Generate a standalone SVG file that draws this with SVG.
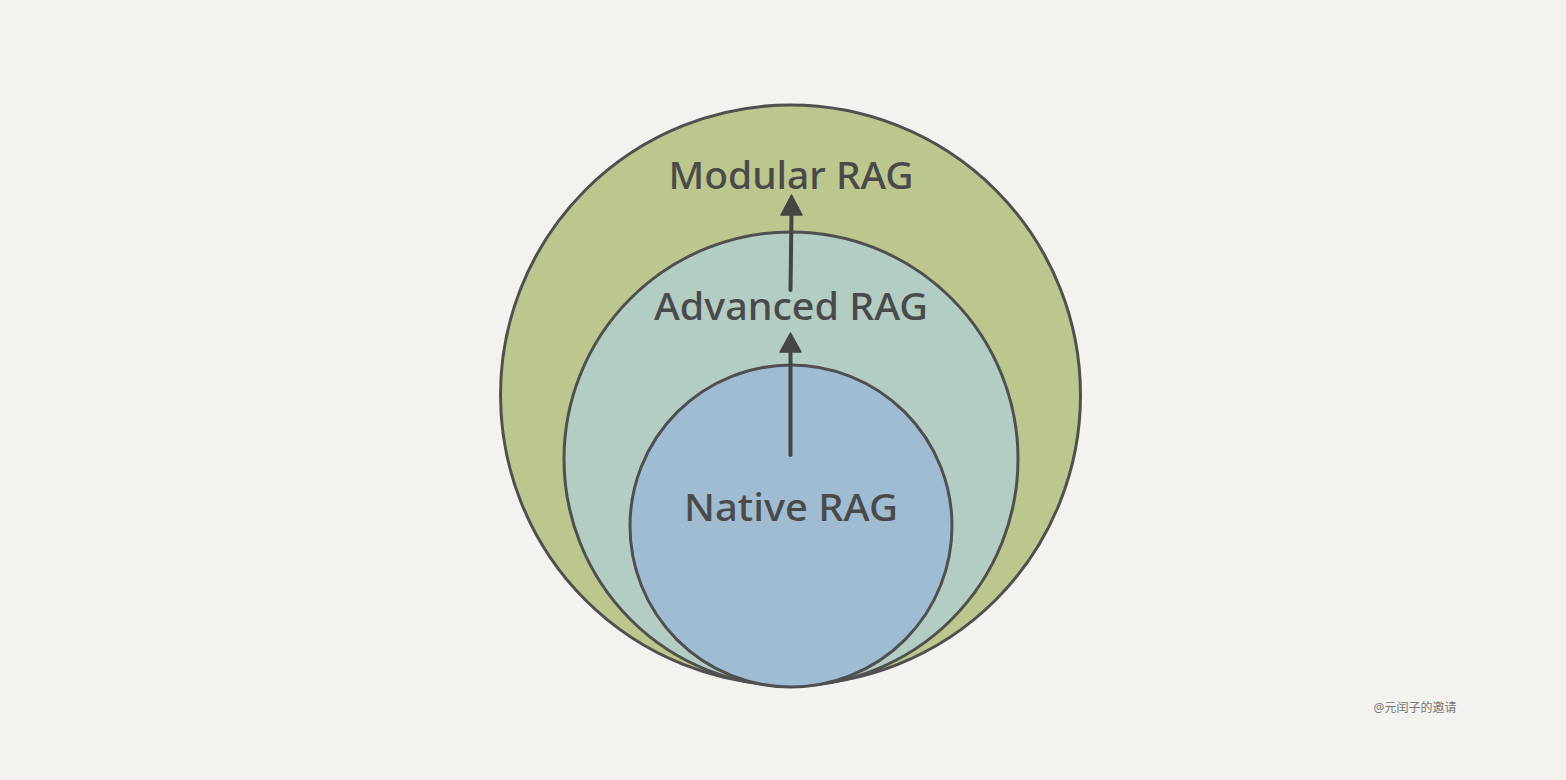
<svg xmlns="http://www.w3.org/2000/svg" width="1566" height="780" viewBox="0 0 1566 780">
<defs>
<style>
.node{stroke:#505050;stroke-width:3}
.lbl{font-family:"Noto Sans","DejaVu Sans",sans-serif;font-size:38px;font-weight:500;fill:#4a4a4a;text-anchor:middle}
.conn{stroke:#454545;stroke-width:4;fill:none;stroke-linecap:round}
.head{fill:#454545;stroke:#454545;stroke-width:1.5;stroke-linejoin:round}
</style>
</defs>
<rect width="1566" height="780" fill="#f3f2ee"/>
<g id="modular">
<circle class="node" cx="790.5" cy="395" r="290" fill="#bcc78d"/>
<text class="lbl" x="791" y="189" textLength="245" lengthAdjust="spacingAndGlyphs">Modular RAG</text>
</g>
<g id="advanced">
<circle class="node" cx="791" cy="459" r="227" fill="#b3cdc4"/>
<text class="lbl" x="791" y="320" textLength="274" lengthAdjust="spacingAndGlyphs">Advanced RAG</text>
</g>
<g id="native">
<circle class="node" cx="791" cy="526" r="161" fill="#a0bcd3"/>
<text class="lbl" x="791" y="521" textLength="214" lengthAdjust="spacingAndGlyphs">Native RAG</text>
</g>
<g id="connectors">
<path class="conn" d="M790.5 455 L790.5 350"/>
<path class="head" d="M790.5 333 L780 352 L801 352 Z"/>
<path class="conn" d="M790.5 290 L791.5 213"/>
<path class="head" d="M791.5 195 L781 215 L802 215 Z"/>
</g>
<text x="1415" y="712" font-family="'Noto Sans','Noto Sans CJK SC',sans-serif" font-size="12" fill="#777" text-anchor="middle">@元闰子的邀请</text>
</svg>
